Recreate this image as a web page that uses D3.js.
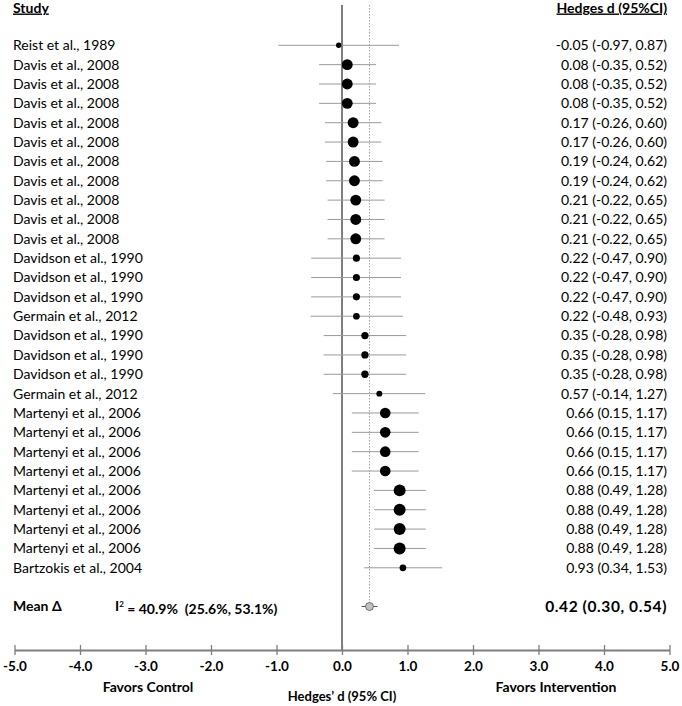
<!DOCTYPE html>
<html>
<head>
<meta charset="utf-8">
<script src="https://cdn.jsdelivr.net/npm/d3@7"></script>
<style>
  html, body { margin: 0; padding: 0; background: #fff; }
  svg { display: block; }
  text { font-family: Lato, "Liberation Sans", sans-serif; fill: #000; }
</style>
</head>
<body>
<svg id="chart" width="682" height="706"></svg>
<script>
const studies = [
  "Reist et al., 1989",
  "Davis et al., 2008", "Davis et al., 2008", "Davis et al., 2008",
  "Davis et al., 2008", "Davis et al., 2008",
  "Davis et al., 2008", "Davis et al., 2008",
  "Davis et al., 2008", "Davis et al., 2008", "Davis et al., 2008",
  "Davidson et al., 1990", "Davidson et al., 1990", "Davidson et al., 1990",
  "Germain et al., 2012",
  "Davidson et al., 1990", "Davidson et al., 1990", "Davidson et al., 1990",
  "Germain et al., 2012",
  "Martenyi et al., 2006", "Martenyi et al., 2006", "Martenyi et al., 2006", "Martenyi et al., 2006",
  "Martenyi et al., 2006", "Martenyi et al., 2006", "Martenyi et al., 2006", "Martenyi et al., 2006",
  "Bartzokis et al., 2004"
];
const estimates = [-0.05, 0.08, 0.08, 0.08, 0.17, 0.17, 0.19, 0.19, 0.21, 0.21, 0.21,
  0.22, 0.22, 0.22, 0.22, 0.35, 0.35, 0.35, 0.57, 0.66, 0.66, 0.66, 0.66,
  0.88, 0.88, 0.88, 0.88, 0.93];
const lowerCI = [-0.97, -0.35, -0.35, -0.35, -0.26, -0.26, -0.24, -0.24, -0.22, -0.22, -0.22,
  -0.47, -0.47, -0.47, -0.48, -0.28, -0.28, -0.28, -0.14, 0.15, 0.15, 0.15, 0.15,
  0.49, 0.49, 0.49, 0.49, 0.34];
const upperCI = [0.87, 0.52, 0.52, 0.52, 0.60, 0.60, 0.62, 0.62, 0.65, 0.65, 0.65,
  0.90, 0.90, 0.90, 0.93, 0.98, 0.98, 0.98, 1.27, 1.17, 1.17, 1.17, 1.17,
  1.28, 1.28, 1.28, 1.28, 1.53];
const weights = [1.0, 4.0, 4.0, 4.0, 4.0, 4.0, 4.0, 4.0, 4.0, 4.0, 4.0,
  1.7, 1.7, 1.7, 1.5, 1.8, 1.8, 1.8, 1.2, 3.8, 3.8, 3.8, 3.8,
  4.8, 4.8, 4.8, 4.8, 1.5];
const pooled = { est: 0.42, lo: 0.30, hi: 0.54 };
const heterogeneity = "40.9%  (25.6%, 53.1%)";
const tickValues = [-5, -4, -3, -2, -1, 0, 1, 2, 3, 4, 5];

const locale = d3.formatLocale({ decimal: ".", thousands: ",", grouping: [3], currency: ["", ""], minus: "-" });
const fmt = locale.format(".2f");
const tickFmt = locale.format(".1f");
const ciLabel = (e, l, u) => `${fmt(e)} (${fmt(l)}, ${fmt(u)})`;

const svg = d3.select("#chart");
const x = d3.scaleLinear().domain([-5, 5]).range([14.5, 669.5]);
const rowIdx = d3.range(studies.length + 2);
const y = d3.scalePoint().domain(rowIdx).range([45.3, 606.5]);
const r = d3.scaleSqrt().domain([0, 5]).range([0, 6.1]);
const axisY = 650;
const topY = 5;

// reference line at 0
svg.append("line")
  .attr("x1", x(0)).attr("x2", x(0))
  .attr("y1", topY).attr("y2", axisY)
  .attr("stroke", "#7f7f7f").attr("stroke-width", 2);

// dotted line at pooled estimate
svg.append("line")
  .attr("x1", x(pooled.est)).attr("x2", x(pooled.est))
  .attr("y1", topY).attr("y2", y(studies.length + 1) - 4)
  .attr("stroke", "#8c8c8c").attr("stroke-width", 0.8)
  .attr("stroke-dasharray", "1.5,1.5");

// headers
svg.append("text").attr("x", 13).attr("y", 12.5)
  .attr("font-size", 14).attr("font-weight", "bold")
  .attr("text-decoration", "underline").text("Study");
svg.append("text").attr("x", 667).attr("y", 12.5)
  .attr("text-anchor", "end")
  .attr("font-size", 14).attr("font-weight", "bold")
  .attr("text-decoration", "underline").text("Hedges d (95%CI)");

const rows = svg.append("g").selectAll("g")
  .data(studies.map((s, i) => ({ s, i, e: estimates[i], l: lowerCI[i], u: upperCI[i], w: weights[i] })))
  .join("g");

rows.append("line")
  .attr("x1", d => x(d.l)).attr("x2", d => x(d.u))
  .attr("y1", d => y(d.i)).attr("y2", d => y(d.i))
  .attr("stroke", "#9a9a9a").attr("stroke-width", 1);
rows.append("circle")
  .attr("cx", d => x(d.e)).attr("cy", d => y(d.i))
  .attr("r", d => r(d.w)).attr("fill", "#000");
rows.append("text")
  .attr("x", 13).attr("y", d => y(d.i)).attr("dy", "0.35em")
  .attr("font-size", 14).text(d => d.s);
rows.append("text")
  .attr("x", 667).attr("y", d => y(d.i)).attr("dy", "0.35em")
  .attr("text-anchor", "end")
  .attr("font-size", 14).text(d => ciLabel(d.e, d.l, d.u));

// pooled row
const py = y(studies.length + 1);
svg.append("line")
  .attr("x1", x(pooled.lo)).attr("x2", x(pooled.hi))
  .attr("y1", py).attr("y2", py)
  .attr("stroke", "#555").attr("stroke-width", 1);
svg.append("circle")
  .attr("cx", x(pooled.est)).attr("cy", py).attr("r", 4)
  .attr("fill", "#c0c0c0").attr("stroke", "#555").attr("stroke-width", 0.8);
svg.append("text").attr("x", 13).attr("y", py).attr("dy", "0.35em")
  .attr("font-size", 14).attr("font-weight", "bold").text("Mean Δ");
const i2 = svg.append("text").attr("x", 115).attr("y", py).attr("dy", "0.35em")
  .attr("font-size", 14).attr("font-weight", "bold").style("white-space", "pre");
i2.append("tspan").text("I");
i2.append("tspan").attr("dy", "-0.5em").attr("font-size", 8).text("2");
i2.append("tspan").attr("dy", "0.5em").text(" = " + heterogeneity);
svg.append("text").attr("x", 667).attr("y", py).attr("dy", "0.35em")
  .attr("text-anchor", "end")
  .attr("font-size", 15.5).attr("font-weight", "bold").attr("letter-spacing", 0.6)
  .text(ciLabel(pooled.est, pooled.lo, pooled.hi));

// x axis
const axis = d3.axisBottom(x).tickValues(tickValues).tickFormat(tickFmt)
  .tickSizeInner(5).tickSizeOuter(0).tickPadding(6);
const ag = svg.append("g").attr("transform", `translate(0,${axisY})`).call(axis);
ag.select(".domain").attr("stroke", "#7f7f7f").attr("stroke-width", 2);
ag.selectAll(".tick line").attr("stroke", "#7f7f7f").attr("stroke-width", 1.3)
  .attr("y1", -5).attr("y2", 5);
ag.selectAll(".tick text")
  .attr("font-family", "Lato, 'Liberation Sans', sans-serif")
  .attr("font-size", 13.5).attr("font-weight", "bold").attr("fill", "#000");

svg.append("text").attr("x", 148).attr("y", 692).attr("text-anchor", "middle")
  .attr("font-size", 14).attr("font-weight", "bold").text("Favors Control");
svg.append("text").attr("x", 556).attr("y", 692).attr("text-anchor", "middle")
  .attr("font-size", 14).attr("font-weight", "bold").text("Favors Intervention");
svg.append("text").attr("x", x(0)).attr("y", 701).attr("text-anchor", "middle")
  .attr("font-size", 13).attr("font-weight", "bold").text("Hedges’ d (95% CI)");
</script>
</body>
</html>
